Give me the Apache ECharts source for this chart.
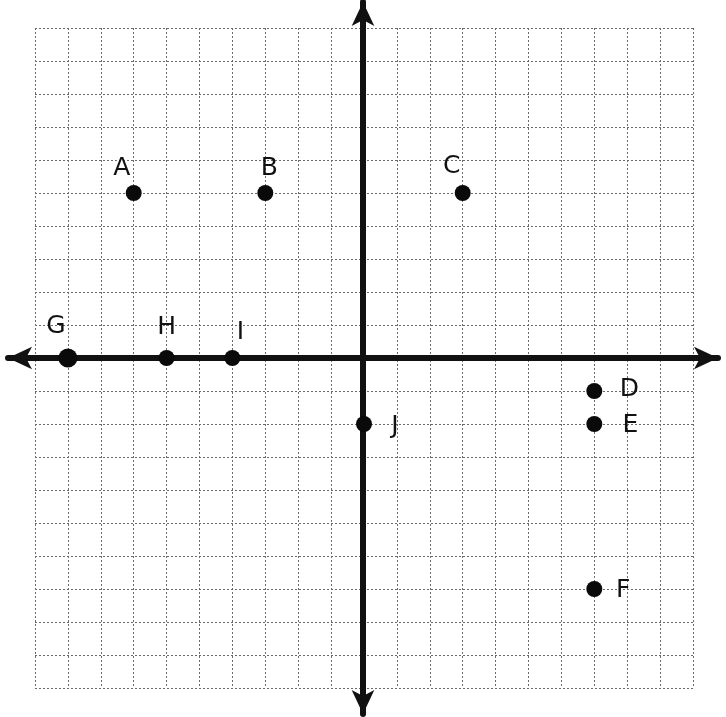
<!DOCTYPE html>
<html>
<head>
<meta charset="utf-8">
<script src="https://cdn.jsdelivr.net/npm/echarts@6/dist/echarts.min.js"></script>
<style>
html, body {margin: 0; padding: 0; background: #fff;}
#chart {width: 726px; height: 717px;}
</style>
</head>
<body>
<div id="chart"></div>
<script>
// points on the coordinate plane
var pointNames = ['A', 'B', 'C', 'D', 'E', 'F', 'G', 'H', 'I', 'J'];
var pointX = [-7, -3, 3, 7, 7, 7, -9, -6, -4, 0];
var pointY = [5, 5, 5, -1, -2, -7, 0, 0, 0, -2];

var axisMin = -10;
var axisMax = 10;

// where each letter sits next to its dot
var labelOffsets = {
    A: [-12, -25], B: [4, -25], C: [-11, -27],
    D: [35, -2], E: [36, 1], F: [29, 1],
    G: [-12, -32], H: [0, -31], I: [8, -26], J: [31, 2]
};

var el = echarts.init(document.getElementById('chart'));

var gridLine = {
    show: true,
    lineStyle: {color: '#6a6a6a', width: 1, type: [2, 2]}
};

var data = pointNames.map(function (name, i) {
    return {
        name: name,
        value: [pointX[i], pointY[i]],
        symbolSize: name === 'G' ? 19 : 16,
        label: {offset: labelOffsets[name]}
    };
});

var arrowLine = {
    show: true,
    onZero: true,
    symbol: ['arrow', 'arrow'],
    symbolSize: [17, 24],
    lineStyle: {color: '#111', width: 6}
};

var option = {
    backgroundColor: '#fff',
    animation: false,
    grid: [
        {left: 35, right: 33, top: 28, bottom: 29},
        {left: 8, right: 8, top: 2, bottom: 3}
    ],
    xAxis: [
        {
            type: 'value', gridIndex: 0, min: axisMin, max: axisMax, interval: 1,
            axisLine: {show: false}, axisTick: {show: false}, axisLabel: {show: false},
            splitLine: gridLine
        },
        {
            type: 'value', gridIndex: 1, min: -1, max: 1, z: 3,
            axisLine: arrowLine, axisTick: {show: false}, axisLabel: {show: false},
            splitLine: {show: false}
        }
    ],
    yAxis: [
        {
            type: 'value', gridIndex: 0, min: axisMin, max: axisMax, interval: 1,
            axisLine: {show: false}, axisTick: {show: false}, axisLabel: {show: false},
            splitLine: gridLine
        },
        {
            type: 'value', gridIndex: 1, min: -1, max: 1, z: 3,
            axisLine: arrowLine, axisTick: {show: false}, axisLabel: {show: false},
            splitLine: {show: false}
        }
    ],
    series: [{
        type: 'scatter',
        xAxisIndex: 0,
        yAxisIndex: 0,
        z: 5,
        itemStyle: {color: '#0a0a0a', opacity: 1},
        label: {
            show: true,
            position: 'inside',
            formatter: '{b}',
            color: '#111',
            fontFamily: 'DejaVu Sans',
            fontSize: 25
        },
        data: data
    }]
};

el.setOption(option);
</script>
</body>
</html>
